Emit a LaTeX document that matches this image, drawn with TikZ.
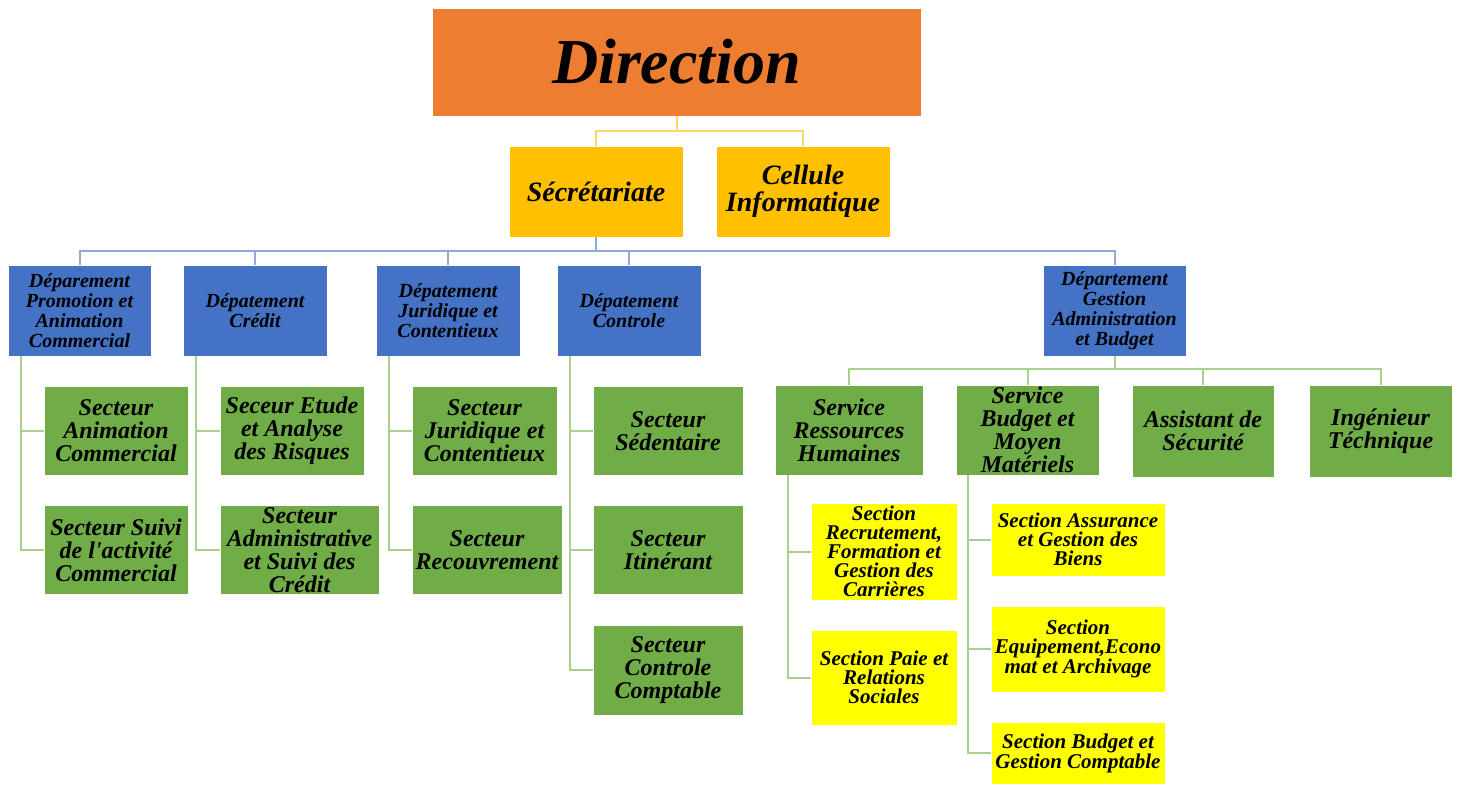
\documentclass[tikz,border=0pt]{standalone}
\usepackage{fontspec}
\setmainfont{Liberation Serif}
\usepackage{xcolor}
\definecolor{orgfill}{HTML}{ED7D31}
\definecolor{goldfill}{HTML}{FFC000}
\definecolor{deptblue}{HTML}{4472C4}
\definecolor{leaf}{HTML}{70AD47}
\definecolor{lemon}{HTML}{FFFF00}
\definecolor{goldline}{HTML}{FFD966}
\definecolor{blueline}{HTML}{8FAADC}
\definecolor{leafline}{HTML}{A9D18E}
\tikzset{%
    box/.style={draw=white, line width=0.8pt, inner sep=1pt, align=center},
    dirbox/.style={box, fill=orgfill, minimum width=489pt, minimum height=108pt,
        font=\bfseries\itshape\fontsize{64}{64}\selectfont},
    secbox/.style={box, fill=goldfill, minimum width=174pt, minimum height=91pt,
        font=\bfseries\itshape\fontsize{28}{27}\selectfont},
    deptbox/.style={box, fill=deptblue, minimum width=144pt, minimum height=91pt,
        font=\bfseries\itshape\fontsize{20}{20}\selectfont},
    unitbox/.style={box, fill=leaf, minimum height=89pt,
        font=\bfseries\itshape\fontsize{24}{23}\selectfont},
    sectionbox/.style={box, fill=lemon, minimum width=146pt,
        font=\bfseries\itshape\fontsize{21}{19}\selectfont},
    goldlink/.style={draw=goldline, line width=2pt},
    bluelink/.style={draw=blueline, line width=2pt},
    leaflink/.style={draw=leafline, line width=2pt}
}

\begin{document}
\begin{tikzpicture}[x=1pt,y=-1pt]
    \useasboundingbox (0,0) rectangle (1458,785);

    % top
    \node[dirbox] (dir) at (676.5,62) {Direction};
    \node[secbox] (secr) at (596,191.5) {Sécrétariate};
    \node[secbox] (cell) at (803,191.5) {Cellule\\Informatique};
    \draw[goldlink] (dir.south) -- ++(0,15) -| (secr.north);
    \draw[goldlink] (dir.south) -- ++(0,15) -| (cell.north);

    % departements
    \node[deptbox,minimum width=143pt] (dpa) at (79.5,310.5) {Déparement\\Promotion et\\Animation\\Commercial};
    \node[deptbox] (dcr) at (255,310.5) {Dépatement\\Crédit};
    \node[deptbox] (djc) at (448,310.5) {Dépatement\\Juridique et\\Contentieux};
    \node[deptbox] (dco) at (629,310.5) {Dépatement\\Controle};
    \node[deptbox,minimum width=143pt] (dga) at (1114.5,310.5) {Département\\Gestion\\Administration\\et Budget};
    \foreach \d in {dpa,dcr,djc,dco,dga}
        \draw[bluelink] (secr.south) -- ++(0,14) -| (\d.north);

    % secteurs
    \node[unitbox,minimum width=144pt] (sanim) at (116,431) {Secteur\\Animation\\Commercial};
    \node[unitbox,minimum width=144pt] (ssuivi) at (116,550) {Secteur Suivi\\de l\textquotesingle activité\\Commercial};
    \node[unitbox,minimum width=144pt] (setude) at (292,431) {Seceur Etude\\et Analyse\\des Risques};
    \node[unitbox,minimum width=159pt] (sadmin) at (299.5,550) {Secteur\\Administrative\\et Suivi des\\Crédit};
    \node[unitbox,minimum width=145pt] (sjur) at (484.5,431) {Secteur\\Juridique et\\Contentieux};
    \node[unitbox,minimum width=150pt] (srec) at (487,550) {Secteur\\Recouvrement};
    \node[unitbox,minimum width=150pt] (ssed) at (668,431) {Secteur\\Sédentaire};
    \node[unitbox,minimum width=150pt] (siti) at (668,550) {Secteur\\Itinérant};
    \node[unitbox,minimum width=150pt,minimum height=90pt] (sctl) at (668,670) {Secteur\\Controle\\Comptable};

    \draw[leaflink] (dpa.south west) ++(13,0) |- (sanim.west);
    \draw[leaflink] (dpa.south west) ++(13,0) |- (ssuivi.west);
    \draw[leaflink] (dcr.south west) ++(13,0) |- (setude.west);
    \draw[leaflink] (dcr.south west) ++(13,0) |- (sadmin.west);
    \draw[leaflink] (djc.south west) ++(13,0) |- (sjur.west);
    \draw[leaflink] (djc.south west) ++(13,0) |- (srec.west);
    \foreach \s in {ssed,siti,sctl}
        \draw[leaflink] (dco.south west) ++(13,0) |- (\s.west);

    % services
    \node[unitbox,minimum width=148pt,minimum height=90pt] (srh) at (849,430) {Service\\Ressources\\Humaines};
    \node[unitbox,minimum width=143pt,minimum height=90pt] (sbm) at (1027.5,430) {Service\\Budget et\\Moyen\\Matériels};
    \node[unitbox,minimum width=142pt,minimum height=92pt] (asec) at (1203,431) {Assistant de\\Sécurité};
    \node[unitbox,minimum width=143pt,minimum height=92pt] (ingt) at (1380.5,431) {Ingénieur\\Téchnique};
    \foreach \s in {srh,sbm,asec,ingt}
        \draw[leaflink] (dga.south) -- ++(0,13) -| (\s.north);

    % sections
    \node[sectionbox,minimum height=97pt] (recr) at (884,551.5) {Section\\Recrutement,\\Formation et\\Gestion des\\Carrières};
    \node[sectionbox,minimum height=95pt] (paie) at (884,677.5) {Section Paie et\\Relations\\Sociales};
    \node[sectionbox,minimum width=174pt,minimum height=73pt] (assu) at (1078,539.5) {Section Assurance\\et Gestion des\\Biens};
    \node[sectionbox,minimum width=174pt,minimum height=86pt] (equi) at (1078,649) {Section\\Equipement,Econo\\mat et Archivage};
    \node[sectionbox,minimum width=174pt,minimum height=62pt] (bgc) at (1078,753) {Section Budget et\\Gestion Comptable};

    \draw[leaflink] (srh.south west) ++(13,0) |- (recr.west);
    \draw[leaflink] (srh.south west) ++(13,0) |- (paie.west);
    \foreach \s in {assu,equi,bgc}
        \draw[leaflink] (sbm.south west) ++(12,0) |- (\s.west);
\end{tikzpicture}
\end{document}
